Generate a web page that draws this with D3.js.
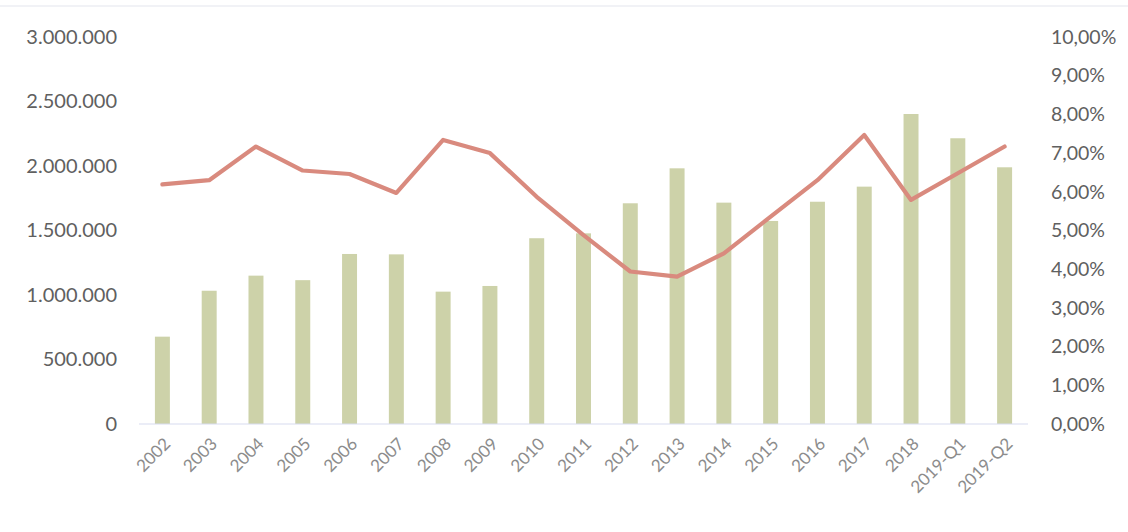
<!DOCTYPE html>
<html>
<head>
<meta charset="utf-8">
<script src="https://cdn.jsdelivr.net/npm/d3@7"></script>
<style>
  html, body { margin: 0; padding: 0; background: #fff; }
  svg { display: block; }
</style>
</head>
<body>
<svg id="chart" width="1128" height="532"></svg>
<script>
// Categories along the x axis
const categories = ["2002","2003","2004","2005","2006","2007","2008","2009","2010","2011",
                    "2012","2013","2014","2015","2016","2017","2018","2019-Q1","2019-Q2"];
// Bar series (left axis)
const volumes = [677000, 1033000, 1150000, 1115000, 1318000, 1315000, 1026000, 1070000, 1440000, 1478000,
                 1711000, 1982000, 1716000, 1574000, 1723000, 1840000, 2403000, 2215000, 1990000];
// Line series (right axis, percent)
const rates = [6.19, 6.30, 7.17, 6.55, 6.46, 5.97, 7.34, 7.00, 5.87, 4.88,
               3.94, 3.81, 4.41, 5.36, 6.30, 7.47, 5.79, 6.48, 7.17];
// Axis ticks
const leftTicks = [0, 500000, 1000000, 1500000, 2000000, 2500000, 3000000];
const rightTicks = [0, 1, 2, 3, 4, 5, 6, 7, 8, 9, 10];

const svg = d3.select("#chart");
const plot = { left: 139, right: 1028, top: 37, bottom: 424 };

const x = d3.scaleBand().domain(categories).range([plot.left, plot.right]).paddingInner(0.68).paddingOuter(0.34);
const yL = d3.scaleLinear().domain([0, 3000000]).range([plot.bottom, plot.top]);
const yR = d3.scaleLinear().domain([0, 10]).range([plot.bottom, plot.top]);

const fmtInt = v => d3.format(",")(v).replace(/,/g, ".");
const fmtPct = v => v.toFixed(2).replace(".", ",") + "%";

// faint frame edge along the top
svg.append("line")
  .attr("x1", 0).attr("x2", 1128).attr("y1", 6).attr("y2", 6)
  .attr("stroke", "#e3e6ee").attr("stroke-width", 1.2);

// bars
svg.append("g").selectAll("rect")
  .data(categories)
  .join("rect")
  .attr("x", (d) => x(d))
  .attr("width", x.bandwidth())
  .attr("y", (d, i) => yL(volumes[i]))
  .attr("height", (d, i) => yL(0) - yL(volumes[i]))
  .attr("fill", "#cdd2a9");

// baseline
svg.append("line")
  .attr("x1", plot.left).attr("x2", plot.right)
  .attr("y1", yL(0)).attr("y2", yL(0))
  .attr("stroke", "#d8dcef").attr("stroke-width", 1.2);

// line
const line = d3.line()
  .x((d, i) => x(categories[i]) + x.bandwidth() / 2)
  .y(d => yR(d));
svg.append("path")
  .datum(rates)
  .attr("d", line)
  .attr("fill", "none")
  .attr("stroke", "#d98a7e")
  .attr("stroke-width", 4.2)
  .attr("stroke-linejoin", "round")
  .attr("stroke-linecap", "round");

const axisFont = "Lato, 'Open Sans', sans-serif";

// left axis
const axL = d3.axisLeft(yL).tickValues(leftTicks).tickFormat(fmtInt).tickSize(0).tickPadding(0);
const gL = svg.append("g").attr("transform", "translate(117,0)").call(axL);
gL.select(".domain").remove();
gL.selectAll("text")
  .attr("font-family", axisFont)
  .attr("font-size", 20)
  .attr("fill", "#606060");

// right axis
const axR = d3.axisRight(yR).tickValues(rightTicks).tickFormat(fmtPct).tickSize(0).tickPadding(0);
const gR = svg.append("g").attr("transform", "translate(1051,0)").call(axR);
gR.select(".domain").remove();
gR.selectAll("text")
  .attr("font-family", axisFont)
  .attr("font-size", 19.5)
  .attr("fill", "#606060");

// category labels, rotated
const axB = d3.axisBottom(x).tickSize(0).tickPadding(0);
const gB = svg.append("g").attr("transform", `translate(0,${plot.bottom})`).call(axB);
gB.select(".domain").remove();
gB.selectAll("text")
  .attr("font-family", axisFont)
  .attr("font-size", 17)
  .attr("fill", "#8c8c8c")
  .attr("text-anchor", "end")
  .attr("dy", 0)
  .attr("transform", "translate(9,21) rotate(-45)");
</script>
</body>
</html>
